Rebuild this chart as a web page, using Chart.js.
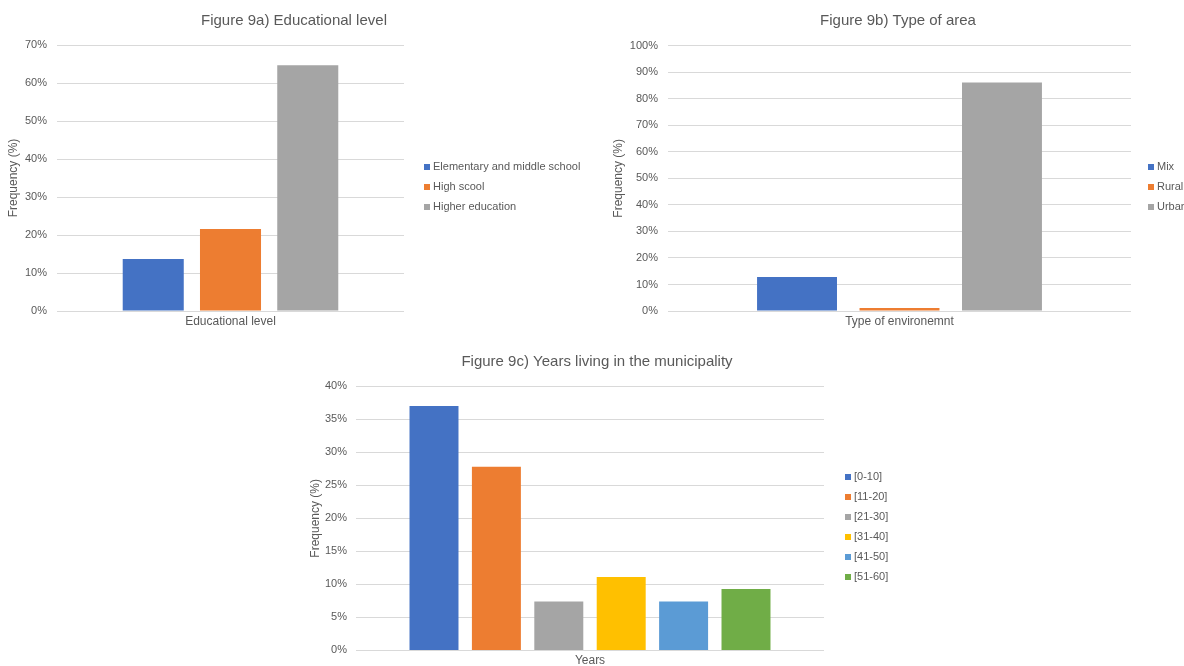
<!DOCTYPE html>
<html>
<head>
<meta charset="utf-8">
<title>Figure 9</title>
<script src="https://cdn.jsdelivr.net/npm/chart.js@4"></script>
<style>
  html, body { margin: 0; padding: 0; background: #fff; overflow: hidden; }
  body { width: 1184px; height: 666px; position: relative; }
  canvas { position: absolute; }
</style>
</head>
<body>
<canvas id="chartEdu" width="588" height="340" style="left:0;top:0"></canvas>
<canvas id="chartArea" width="596" height="340" style="left:600px;top:0"></canvas>
<canvas id="chartYears" width="594" height="326" style="left:300px;top:340px"></canvas>
<script>
// Figure 9a) educational level
const eduCategory = 'Educational level';
const eduSeries = ['Elementary and middle school', 'High scool', 'Higher education'];
const eduValues = [13.7, 21.6, 64.7];

// Figure 9b) type of area
const areaCategory = 'Type of environemnt';
const areaSeries = ['Mix', 'Rural', 'Urban'];
const areaValues = [12.8, 1.1, 86.1];

// Figure 9c) years living in the municipality
const yearsCategory = 'Years';
const yearsSeries = ['[0-10]', '[11-20]', '[21-30]', '[31-40]', '[41-50]', '[51-60]'];
const yearsValues = [37.0, 27.8, 7.4, 11.1, 7.4, 9.3];

const FONT = "'Liberation Sans', Arial, sans-serif";
const TEXT = '#595959';
const OFFICE = ['#4472C4', '#ED7D31', '#A5A5A5', '#FFC000', '#5B9BD5', '#70AD47'];

Chart.defaults.font.family = FONT;
Chart.defaults.font.size = 11;
Chart.defaults.color = TEXT;

// legend stacked at the right of the plot, small square markers
const sideLegend = {
  id: 'sideLegend',
  afterDraw(chart, args, opts) {
    const { ctx, chartArea } = chart;
    const sets = chart.data.datasets;
    const step = 20;
    const mid = (chartArea.top + chartArea.bottom) / 2 + 9;
    let y = mid - (sets.length - 1) * step / 2;
    const x = chartArea.right + opts.offsetX;
    ctx.save();
    ctx.font = '11px ' + FONT;
    ctx.textBaseline = 'middle';
    sets.forEach((ds) => {
      ctx.fillStyle = ds.backgroundColor;
      ctx.fillRect(x, Math.round(y) - 3, 6, 6);
      ctx.fillStyle = TEXT;
      ctx.fillText(ds.label, x + 9, y);
      y += step;
    });
    ctx.restore();
  }
};

function barChart(id, cfg) {
  const datasets = cfg.series.map((name, i) => ({
    label: name,
    data: [cfg.values[i]],
    backgroundColor: OFFICE[i],
    categoryPercentage: cfg.catPct,
    barPercentage: cfg.barPct,
  }));

  return new Chart(document.getElementById(id), {
    type: 'bar',
    data: { labels: [cfg.category], datasets },
    options: {
      responsive: false,
      animation: false,
      devicePixelRatio: 1,
      layout: { padding: 0 },
      plugins: {
        legend: { display: false },
        tooltip: { enabled: false },
        title: {
          display: true,
          text: cfg.title,
          color: TEXT,
          font: { size: 15, weight: 'normal' },
          padding: { top: cfg.titleTop, bottom: cfg.titleBottom },
        },
        sideLegend: { offsetX: cfg.legendX },
      },
      scales: {
        x: {
          grid: { display: false, drawTicks: false },
          border: { display: false },
          ticks: { padding: cfg.xPad, font: { size: 12 } },
          afterFit: (s) => { s.height = cfg.xHeight; },
        },
        y: {
          min: 0,
          max: cfg.yMax,
          ticks: {
            stepSize: cfg.yStep,
            padding: cfg.yPad,
            font: { size: 11 },
            callback: (v) => v + '%',
          },
          grid: { color: '#D9D9D9', drawTicks: false },
          border: { display: false },
          title: {
            display: true,
            text: 'Frequency (%)',
            font: { size: 12 },
            padding: { top: cfg.yTitlePad, bottom: 0 },
          },
          afterFit: (s) => { s.width = cfg.yWidth; },
        },
        // empty right-hand axis keeps room for the legend
        gap: {
          position: 'right',
          display: true,
          grid: { display: false },
          border: { display: false },
          ticks: { display: false },
          afterFit: (s) => { s.width = cfg.rightGap; },
        },
      },
    },
    plugins: [sideLegend],
  });
}

barChart('chartEdu', {
  title: 'Figure 9a) Educational level',
  category: eduCategory, series: eduSeries, values: eduValues,
  yMax: 70, yStep: 10,
  catPct: 0.668, barPct: 0.79,
  titleTop: 12, titleBottom: 15,
  xPad: 3, xHeight: 29,
  yPad: 10, yWidth: 57, yTitlePad: 6.8,
  rightGap: 184, legendX: 20,
});

barChart('chartArea', {
  title: 'Figure 9b) Type of area',
  category: areaCategory, series: areaSeries, values: areaValues,
  yMax: 100, yStep: 10,
  catPct: 0.664, barPct: 0.78,
  titleTop: 12, titleBottom: 15.7,
  xPad: 3, xHeight: 29,
  yPad: 10, yWidth: 68, yTitlePad: 11.8,
  rightGap: 65, legendX: 17,
});

barChart('chartYears', {
  title: 'Figure 9c) Years living in the municipality',
  category: yearsCategory, series: yearsSeries, values: yearsValues,
  yMax: 40, yStep: 5,
  catPct: 0.80, barPct: 0.785,
  titleTop: 12.7, titleBottom: 15.6,
  xPad: 3, xHeight: 14.3,
  yPad: 9, yWidth: 56, yTitlePad: 8.8,
  rightGap: 70, legendX: 21,
});
</script>
</body>
</html>
